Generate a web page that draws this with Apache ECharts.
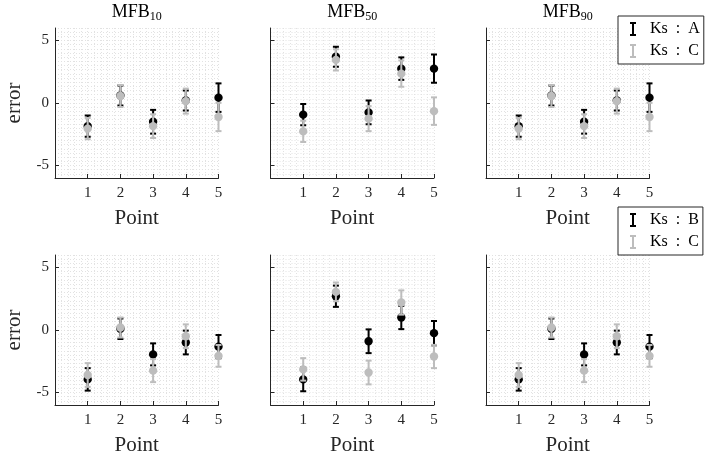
<!DOCTYPE html>
<html>
<head>
<meta charset="utf-8">
<script src="https://cdn.jsdelivr.net/npm/echarts@6/dist/echarts.min.js"></script>
<style>
  html, body { margin: 0; padding: 0; background: #fff; }
  #chart { width: 723px; height: 459px; }
</style>
</head>
<body>
<div id="chart"></div>
<script>
// Measurement points on the x axis
const points = [1, 2, 3, 4, 5];
const yTicks = [-5, 0, 5];
const panelTitles = ['10', '50', '90'];

// Top row: Ks A vs Ks C (mean error and half-width of the bar)
const mfb10A_mean = [-1.85, 0.6, -1.5, 0.2, 0.43];
const mfb10A_err  = [0.85, 0.8, 0.95, 0.8, 1.14];
const mfb10C_mean = [-2.05, 0.56, -1.85, 0.15, -1.12];
const mfb10C_err  = [0.85, 0.88, 0.95, 1.0, 1.13];

const mfb50A_mean = [-0.93, 3.7, -0.75, 2.75, 2.75];
const mfb50A_err  = [0.85, 0.8, 0.95, 0.9, 1.13];
const mfb50C_mean = [-2.27, 3.45, -1.25, 2.35, -0.65];
const mfb50C_err  = [0.85, 0.85, 1.0, 1.05, 1.1];

const mfb90A_mean = [-1.85, 0.6, -1.5, 0.2, 0.43];
const mfb90A_err  = [0.85, 0.8, 0.95, 0.8, 1.14];
const mfb90C_mean = [-2.05, 0.56, -1.85, 0.15, -1.12];
const mfb90C_err  = [0.85, 0.88, 0.95, 1.0, 1.13];

// Bottom row: Ks B vs Ks C
const mfb10B_mean = [-3.95, 0.1, -1.95, -1.0, -1.33];
const mfb10B_err  = [0.9, 0.82, 0.88, 0.95, 0.93];
const mfb10C2_mean = [-3.6, 0.2, -3.25, -0.5, -2.07];
const mfb10C2_err  = [0.95, 0.8, 0.92, 0.95, 0.87];

const mfb50B_mean = [-3.95, 2.7, -0.9, 1.0, -0.25];
const mfb50B_err  = [0.95, 0.85, 0.95, 0.93, 0.97];
const mfb50C2_mean = [-3.15, 3.05, -3.4, 2.2, -2.12];
const mfb50C2_err  = [0.9, 0.75, 0.95, 0.97, 0.93];

const mfb90B_mean = [-3.95, 0.1, -1.95, -1.0, -1.33];
const mfb90B_err  = [0.9, 0.82, 0.88, 0.95, 0.93];
const mfb90C2_mean = [-3.6, 0.2, -3.25, -0.5, -2.07];
const mfb90C2_err  = [0.95, 0.8, 0.92, 0.95, 0.87];

const BLACK = '#000000';
const GRAY = '#bdbdbd';
const AXIS = '#262626';
const FONT = 'Liberation Serif';

const panels = [
  { dark: ['Ks : A', mfb10A_mean, mfb10A_err], light: ['Ks : C', mfb10C_mean, mfb10C_err] },
  { dark: ['Ks : A', mfb50A_mean, mfb50A_err], light: ['Ks : C', mfb50C_mean, mfb50C_err] },
  { dark: ['Ks : A', mfb90A_mean, mfb90A_err], light: ['Ks : C', mfb90C_mean, mfb90C_err] },
  { dark: ['Ks : B', mfb10B_mean, mfb10B_err], light: ['Ks : C', mfb10C2_mean, mfb10C2_err] },
  { dark: ['Ks : B', mfb50B_mean, mfb50B_err], light: ['Ks : C', mfb50C2_mean, mfb50C2_err] },
  { dark: ['Ks : B', mfb90B_mean, mfb90B_err], light: ['Ks : C', mfb90C2_mean, mfb90C2_err] }
];

const lefts = [55, 270.5, 486];
const tops = [28, 255];
const W = 163.5, H = 150;

const gridLine = { color: '#e2e2e2', width: 1, type: [1, 2] };

function renderErrorBar(params, api) {
  const x = api.value(0), m = api.value(1), e = api.value(2);
  const hi = api.coord([x, m + e]);
  const lo = api.coord([x, m - e]);
  const c = api.coord([x, m]);
  const color = api.visual('color');
  const hw = 3;
  const st = { stroke: color, lineWidth: 2 };
  return {
    type: 'group',
    children: [
      { type: 'line', shape: { x1: hi[0], y1: hi[1], x2: lo[0], y2: lo[1] }, style: st },
      { type: 'line', shape: { x1: hi[0] - hw, y1: hi[1], x2: hi[0] + hw, y2: hi[1] }, style: st },
      { type: 'line', shape: { x1: lo[0] - hw, y1: lo[1], x2: lo[0] + hw, y2: lo[1] }, style: st },
      { type: 'circle', shape: { cx: c[0], cy: c[1], r: 4.2 }, style: { fill: color } }
    ]
  };
}

const grid = [], xAxis = [], yAxis = [], series = [], title = [];

panels.forEach((p, i) => {
  const col = i % 3, row = Math.floor(i / 3);
  grid.push({ left: lefts[col], top: tops[row], width: W, height: H });

  xAxis.push({
    gridIndex: i, type: 'value', min: 0, max: 5, interval: 1,
    axisLine: { show: true, onZero: false, lineStyle: { color: AXIS, width: 1 } },
    axisTick: { show: true, inside: true, length: 4, lineStyle: { color: AXIS } },
    axisLabel: {
      formatter: v => (v === 0 ? '' : String(v)),
      margin: 8, fontFamily: FONT, fontSize: 15, color: AXIS
    },
    splitLine: { show: true, lineStyle: gridLine },
    minorTick: { show: false, splitNumber: 5 },
    minorSplitLine: { show: true, lineStyle: gridLine },
    name: 'Point', nameLocation: 'middle', nameGap: 30,
    nameTextStyle: { fontFamily: FONT, fontSize: 21, color: AXIS }
  });

  // grid-line axis
  yAxis.push({
    gridIndex: i, type: 'value', position: 'left', min: -6, max: 6, interval: 1,
    axisLine: { show: false }, axisTick: { show: false }, axisLabel: { show: false },
    splitLine: { show: true, lineStyle: gridLine },
    minorTick: { show: false, splitNumber: 3 },
    minorSplitLine: { show: true, lineStyle: gridLine }
  });
  // labelled axis
  const yLab = {
    gridIndex: i, type: 'value', position: 'left', min: -6, max: 6, interval: 1,
    axisLine: { show: true, onZero: false, lineStyle: { color: AXIS, width: 1 } },
    axisTick: { show: true, inside: true, length: 4, customValues: yTicks, lineStyle: { color: AXIS } },
    axisLabel: {
      show: col === 0, customValues: yTicks, margin: 6,
      fontFamily: FONT, fontSize: 15, color: AXIS
    },
    splitLine: { show: false }
  };
  if (col === 0) {
    yLab.name = 'error';
    yLab.nameLocation = 'middle';
    yLab.nameGap = 30;
    yLab.nameTextStyle = { fontFamily: FONT, fontSize: 21, color: AXIS };
  }
  yAxis.push(yLab);

  [[p.dark, BLACK], [p.light, GRAY]].forEach(([s, color]) => {
    series.push({
      type: 'custom', name: s[0],
      xAxisIndex: i, yAxisIndex: 2 * i + 1,
      itemStyle: { color: color },
      renderItem: renderErrorBar,
      clip: false,
      encode: { x: 0, y: 1 },
      data: points.map((x, k) => [x, s[1][k], s[2][k]])
    });
  });

  if (row === 0) {
    title.push({
      text: '{m|MFB}{s|' + panelTitles[col] + '}',
      left: lefts[col] + W / 2, top: 2.5, textAlign: 'center', padding: 0,
      textStyle: {
        fontWeight: 'normal',
        rich: {
          m: { fontFamily: FONT, fontSize: 18, fontWeight: 'normal', lineHeight: 20, color: '#000' },
          s: { fontFamily: FONT, fontSize: 12, fontWeight: 'normal', lineHeight: 12, verticalAlign: 'bottom', color: '#000' }
        }
      }
    });
  }
});

const legendIcon = 'path://M0 0H6V2H4V12H6V14H0V12H2V2H0Z';
function legendAt(topPx, names) {
  return {
    orient: 'vertical', left: 618, top: topPx,
    padding: [5, 4, 5, 12], itemGap: 6, itemWidth: 6, itemHeight: 14,
    selectedMode: false,
    backgroundColor: '#fff', borderColor: AXIS, borderWidth: 1,
    formatter: n => n.replace(/ /g, '\u2002'),
    textStyle: { fontFamily: FONT, fontSize: 16, color: '#000', padding: [0, 0, 0, 9] },
    data: names.map(n => ({ name: n, icon: legendIcon }))
  };
}

const chart = echarts.init(document.getElementById('chart'), null, { renderer: 'canvas' });
chart.setOption({
  animation: false,
  backgroundColor: '#fff',
  title: title,
  legend: [legendAt(16, ['Ks : A', 'Ks : C']), legendAt(207, ['Ks : B', 'Ks : C'])],
  grid: grid,
  xAxis: xAxis,
  yAxis: yAxis,
  series: series
});
</script>
</body>
</html>
